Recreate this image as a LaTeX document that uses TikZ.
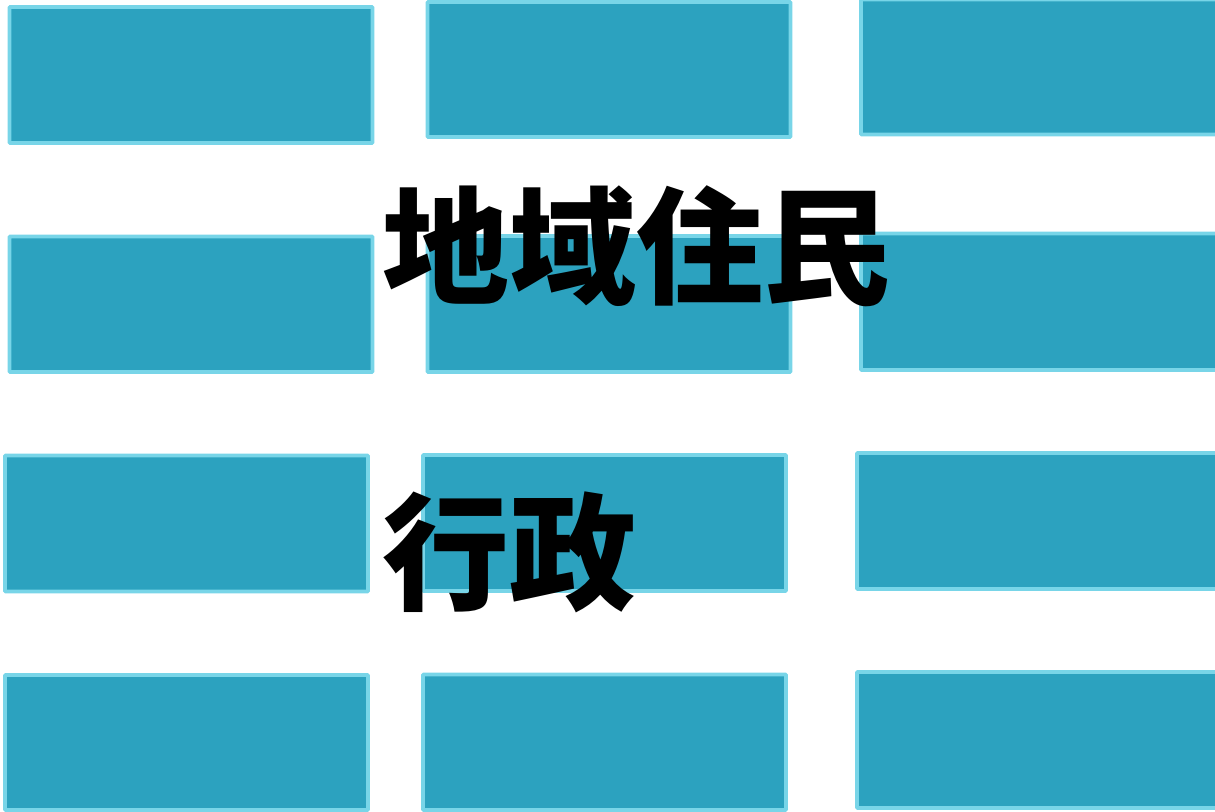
\documentclass[tikz,border=0pt]{standalone}
\usepackage{fontspec}
\newfontfamily\cjk{Noto Sans CJK JP}
\definecolor{boxfill}{HTML}{2CA2BF}
\definecolor{boxline}{HTML}{78D5E8}
\begin{document}
\begin{tikzpicture}[x=1pt,y=-1pt,
  tile/.style={fill=boxfill,draw=boxline,line width=3.8pt,rounded corners=0.8pt},
  label/.style={font=\cjk\bfseries\fontsize{127}{129}\selectfont,inner sep=0pt,anchor=west,text=black}]
\useasboundingbox (0,0) rectangle (1215,811);
% row 1
\draw[tile] (9.5,7) rectangle (372.5,143);
\draw[tile] (427.5,2) rectangle (790.5,137);
\draw[tile] (861,-0.5) rectangle (1230,134.5);
% row 2
\draw[tile] (9.5,236.5) rectangle (372.5,372);
\draw[tile] (427.5,236) rectangle (790.5,372);
\draw[tile] (861,233.5) rectangle (1230,370);
% row 3
\draw[tile] (5,455.5) rectangle (368,591.5);
\draw[tile] (423,455) rectangle (786,591);
\draw[tile] (857,453) rectangle (1230,589);
% row 4
\draw[tile] (5,675) rectangle (368,810);
\draw[tile] (423,674.5) rectangle (786,810);
\draw[tile] (857,672) rectangle (1230,808);
% labels
\node[label] (residents) at (382,246) {地域住民};
\node[label] (admin) at (382,552) {行政};
\end{tikzpicture}
\end{document}
